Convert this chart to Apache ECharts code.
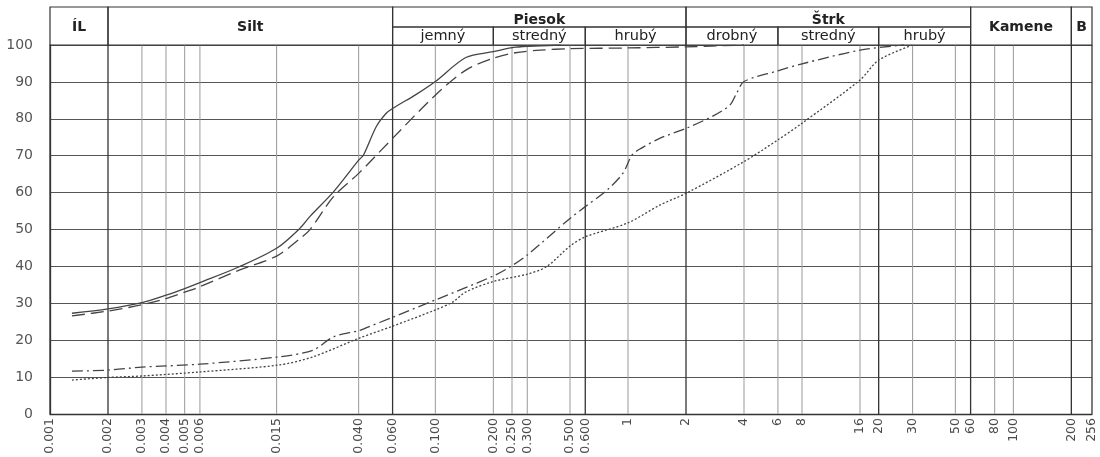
<!DOCTYPE html>
<html>
<head>
<meta charset="utf-8">
<script src="https://cdn.jsdelivr.net/npm/echarts@6/dist/echarts.min.js"></script>
<style>html,body{margin:0;padding:0;background:#fff}#c{width:1100px;height:457px}</style>
</head>
<body>
<div id="c"></div>
<script>
// ---- tick labels (grain size, mm) ----
const tickLabels = ['0.001','0.002','0.003','0.004','0.005','0.006','0.015','0.040','0.060','0.100','0.200','0.250','0.300','0.500','0.600','1','2','4','6','8','16','20','30','50','60','80','100','200','256'];
const strongTicks = ['0.001','0.002','0.060','0.600','2','20','60','200','256'];

// ---- header cells ----
const headerNames = ['ÍL','Silt','Piesok','jemný','stredný','hrubý','Štrk','drobný','stredný','hrubý','Kamene','B'];
const headerFrom  = [0.001,0.002,0.06,0.06,0.2,0.6,2,2,6,20,60,200];
const headerTo    = [0.002,0.06,2,0.2,0.6,2,60,6,20,60,200,256];
const headerRow   = ['full','full','top','bottom','bottom','bottom','top','bottom','bottom','bottom','full','full'];

// ---- curves ----
const solidX = [0.0013,0.002,0.003,0.004,0.005,0.006,0.0096,0.015,0.0198,0.0223,0.0296,0.04,0.0424,0.0494,0.0556,0.06,0.08,0.1,0.144,0.2,0.26,0.35,0.45];
const solidY = [27.3,28.5,30.2,32.2,34.0,35.6,39.9,44.9,50.3,53.5,60.2,68.8,70.2,77.9,81.5,82.8,86.7,90.1,96.6,98.2,99.4,99.8,100];

const dashX = [0.0013,0.002,0.003,0.004,0.005,0.006,0.0096,0.015,0.0198,0.0223,0.0296,0.04,0.06,0.1,0.144,0.2,0.26,0.35,0.5,1,2,4];
const dashY = [26.6,27.9,29.6,31.3,33.0,34.5,39.0,42.8,47.5,49.9,58.9,65.2,74.7,86.4,93.2,96.4,97.9,98.6,99.0,99.2,99.5,100];

const dashDotX = [0.0013,0.002,0.003,0.006,0.0155,0.0232,0.0296,0.04,0.044,0.06,0.1,0.2,0.25,0.3,0.5,0.6,0.778,0.94,1.05,1.17,1.46,2,2.77,3.38,3.66,4,6,8,16,27];
const dashDotY = [11.6,11.9,12.7,13.5,15.5,17.3,20.9,22.6,23.4,26.2,30.9,37.4,40.2,43.1,53.0,56.2,60.7,65.2,70.2,72.0,74.7,77.4,80.8,83.7,86.9,90.1,93.0,94.9,98.6,100];

const dotX = [0.0013,0.002,0.003,0.006,0.0155,0.0232,0.04,0.06,0.1,0.1235,0.1442,0.2,0.3,0.377,0.5,0.6,1,1.46,2,4,6,8,16,20,30];
const dotY = [9.2,9.9,10.3,11.4,13.3,15.5,20.5,23.8,28.2,30.4,33.1,35.9,37.9,39.9,45.5,48.0,51.8,56.6,59.8,68.4,74.3,78.8,90.5,95.9,100];

const yTicks = [0,10,20,30,40,50,60,70,80,90,100];

const FONT = '"DejaVu Sans", sans-serif';
const zip = (xs, ys) => xs.map((x, i) => [x, ys[i]]);

const chart = echarts.init(document.getElementById('c'), null, {renderer: 'canvas'});

const curveLine = (name, xs, ys, type) => ({
  name, type: 'line', data: zip(xs, ys), smooth: 0.3, showSymbol: false, symbol: 'none',
  z: 5, silent: true,
  lineStyle: {color: '#444', width: 1.3, type: type}
});

chart.setOption({
  animation: false,
  backgroundColor: '#ffffff',
  grid: {left: 50, right: 8, top: 45, bottom: 43, containLabel: false},
  xAxis: {
    type: 'log', logBase: 10, min: 0.001, max: 256,
    axisLine: {show: true, lineStyle: {color: '#333', width: 1.3}},
    axisTick: {show: false}, axisLabel: {show: false}, splitLine: {show: false}, minorSplitLine: {show: false}
  },
  yAxis: {
    type: 'value', min: 0, max: 100, interval: 10,
    axisLine: {show: true, lineStyle: {color: '#333', width: 1.3}},
    axisTick: {show: false},
    axisLabel: {color: '#555', fontSize: 14, fontFamily: FONT, margin: 17,
      formatter: v => yTicks.indexOf(v) >= 0 ? String(v) : ''},
    splitLine: {show: true, lineStyle: {color: '#555', width: 1.2}}
  },
  series: [
    {
      type: 'custom', z: 2, silent: true, clip: false,
      data: tickLabels.map(t => [parseFloat(t), 50]),
      encode: {x: 0, y: 1},
      renderItem: (params, api) => {
        const v = api.value(0);
        const lab = tickLabels[params.dataIndex];
        const p0 = api.coord([v, 0]);
        const p1 = api.coord([v, 100]);
        const strong = strongTicks.indexOf(lab) >= 0;
        return {
          type: 'group',
          children: [
            {type: 'line', shape: {x1: p0[0], y1: p0[1], x2: p1[0], y2: p1[1]},
             style: {stroke: strong ? '#333' : '#999', lineWidth: strong ? 1.3 : 1}},
            {type: 'text', x: p0[0], y: p0[1] + 4, rotation: Math.PI / 2,
             style: {text: lab, align: 'right', verticalAlign: 'middle', fill: '#4a4a4a', font: '12.5px ' + FONT}}
          ]
        };
      }
    },
    {
      type: 'custom', z: 3, silent: true, clip: false,
      data: headerFrom.map((f, i) => [f, headerTo[i], 100]),
      encode: {x: [0, 1], y: 2},
      renderItem: (params, api) => {
        const i = params.dataIndex;
        const a = api.coord([api.value(0), 100]);
        const b = api.coord([api.value(1), 100]);
        const yb = a[1];
        const row = headerRow[i];
        let y0, y1, ty, font;
        if (row === 'full') { y0 = yb - 38; y1 = yb; ty = yb - 18; font = 'bold 14px ' + FONT; }
        else if (row === 'top') { y0 = yb - 38; y1 = yb - 18; ty = yb - 25; font = 'bold 14px ' + FONT; }
        else { y0 = yb - 18; y1 = yb; ty = yb - 8.5; font = '14.5px ' + FONT; }
        return {
          type: 'group',
          children: [
            {type: 'rect', shape: {x: a[0], y: y0, width: b[0] - a[0], height: y1 - y0},
             style: {fill: 'none', stroke: '#333', lineWidth: 1.2}},
            {type: 'text', x: (a[0] + b[0]) / 2, y: ty,
             style: {text: headerNames[i], align: 'center', verticalAlign: 'middle', fill: '#222', font: font}}
          ]
        };
      }
    },
    curveLine('solid', solidX, solidY, 'solid'),
    curveLine('dashed', dashX, dashY, [13, 6]),
    curveLine('dashdot', dashDotX, dashDotY, [11, 4, 2, 4]),
    curveLine('dotted', dotX, dotY, [2, 2])
  ]
});
</script>
</body>
</html>
